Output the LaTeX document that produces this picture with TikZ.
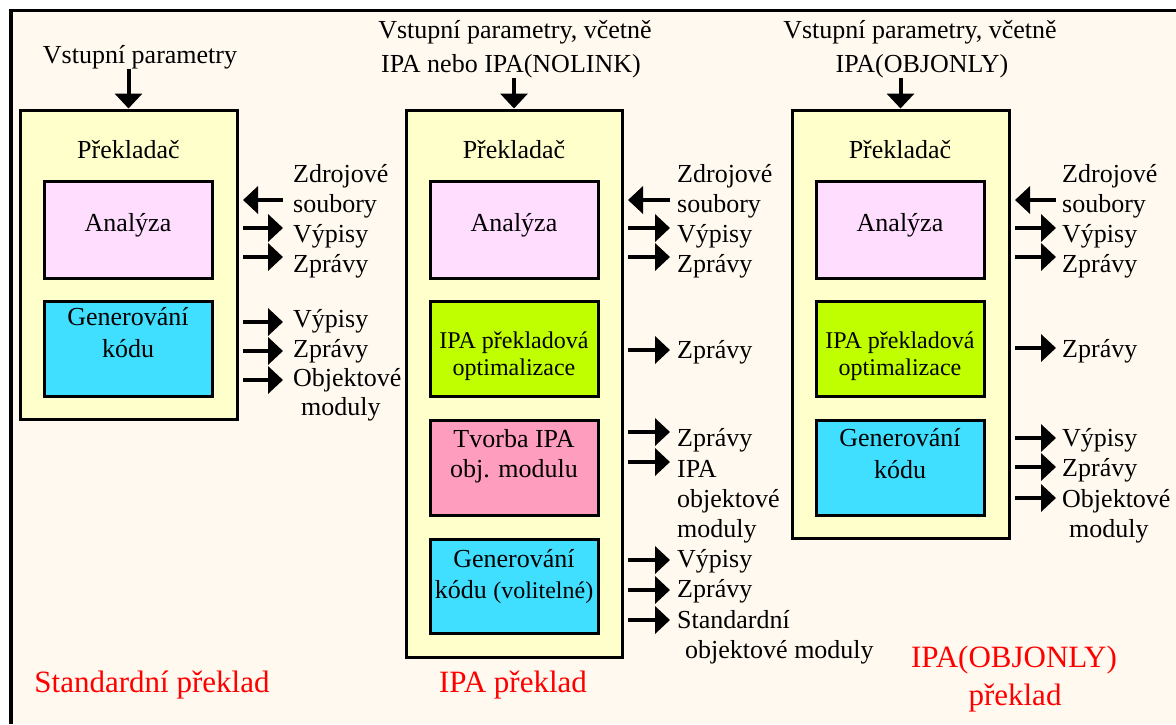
\documentclass[tikz,border=0pt]{standalone}
\usepackage{fontspec}
\setmainfont{LiberationSerif}[Extension=.ttf, UprightFont=*-Regular, BoldFont=*-Bold, ItalicFont=*-Italic, BoldItalicFont=*-BoldItalic]
\usetikzlibrary{arrows.meta}
\definecolor{paper}{HTML}{FFF9EF}
\definecolor{stagefill}{HTML}{FFFFCC}
\definecolor{analysisfill}{HTML}{FFDDFF}
\definecolor{codegenfill}{HTML}{40DFFF}
\definecolor{optfill}{HTML}{BFFF00}
\definecolor{objfill}{HTML}{FF9DBF}
\begin{document}
\begin{tikzpicture}[x=1pt,y=-1pt,
  stage/.style={draw=black, line width=3pt, fill=stagefill, minimum width=217pt, inner sep=0pt},
  phase/.style={draw=black, line width=3pt, minimum width=168pt, inner sep=0pt},
  txt/.style={anchor=base, inner sep=0pt, font=\fontsize{26}{30}\selectfont},
  smalltxt/.style={anchor=base, inner sep=0pt, font=\fontsize{24}{27}\selectfont},
  lbl/.style={txt, anchor=base west},
  caption/.style={anchor=base, inner sep=0pt, text=red, font=\fontsize{31}{36}\selectfont},
  flow/.style={line width=4pt, -{Triangle[length=15pt,width=27pt]}},
  backflow/.style={line width=4pt, {Triangle[length=15pt,width=27pt]}-}]

% page and outer frame
\useasboundingbox (0,0) rectangle (1176,724);
\fill[white] (0,0) rectangle (1176,724);
\fill[paper] (11,10.5) rectangle (1176,724);
\draw[line width=3.5pt] (11,724) -- (11,10.5) -- (1176,10.5);

% ---------------- standard compilation ----------------
\node[stage, minimum height=309pt] (L) at (128.5,264.5) {};
\node[phase, fill=analysisfill, minimum height=97pt] (LA) at (128,229.5) {};
\node[phase, fill=codegenfill, minimum height=95pt] (LG) at (128,348.5) {};
\node[txt] (Lin) at (140,63) {Vstupní parametry};
\node[txt] (Ltitle) at (128.5,158) {Překladač};
\node[txt] (LAt) at (128,231) {Analýza};
\node[txt] (LGt1) at (128,325) {Generování};
\node[txt] (LGt2) at (128,357) {kódu};
\draw[flow] (L.north |- Lin.south) -- (L.north);

\node[lbl] (L1) at (293,182) {Zdrojové};
\node[lbl] (L2) at (293,212) {soubory};
\node[lbl] (L3) at (293,242) {Výpisy};
\node[lbl] (L4) at (293,272) {Zprávy};
\node[lbl] (L5) at (293,327) {Výpisy};
\node[lbl] (L6) at (293,357) {Zprávy};
\node[lbl] (L7) at (293,386) {Objektové};
\node[lbl] (L8) at (301,415) {moduly};
\coordinate (Lout) at ([xshift=4.5pt]L.east);
\draw[backflow] (Lout |- 0,200) -- ++(40,0);
\foreach \y in {228,257,322,351,380}
  \draw[flow] (Lout |- 0,\y) -- ++(40,0);

\node[caption] (Lcap) at (152,692) {Standardní překlad};

% ---------------- IPA compilation ----------------
\node[stage, minimum width=216pt, minimum height=547pt] (C) at (514,383.5) {};
\node[phase, fill=analysisfill, minimum height=97pt] (CA) at (514,229.5) {};
\node[phase, fill=optfill, minimum height=95pt] (CO) at (514,348.5) {};
\node[phase, fill=objfill, minimum height=95pt] (CT) at (514,467.5) {};
\node[phase, fill=codegenfill, minimum height=94pt] (CG) at (514,586) {};
\node[txt] (Cin1) at (515,38) {Vstupní parametry, včetně};
\node[txt] (Cin2) at (511,72) {IPA nebo IPA(NOLINK)};
\node[txt] (Ctitle) at (514,158) {Překladač};
\node[txt] (CAt) at (514,231) {Analýza};
\node[smalltxt] (COt1) at (514,348) {IPA překladová};
\node[smalltxt] (COt2) at (514,375) {optimalizace};
\node[txt] (CTt1) at (514,447) {Tvorba IPA};
\node[txt] (CTt2) at (514,477) {obj. modulu};
\node[txt] (CGt1) at (514,567) {Generování};
\node[txt] (CGt2) at (514,598) {kódu {\fontsize{24}{27}\selectfont(volitelné)}};
\draw[flow] (C.north |- Cin2.south) -- (C.north);

\node[lbl] (C1) at (677,182) {Zdrojové};
\node[lbl] (C2) at (677,212) {soubory};
\node[lbl] (C3) at (677,242) {Výpisy};
\node[lbl] (C4) at (677,272) {Zprávy};
\node[lbl] (C5) at (677,358) {Zprávy};
\node[lbl] (C6) at (677,446) {Zprávy};
\node[lbl] (C7) at (677,477) {IPA};
\node[lbl] (C8) at (677,507) {objektové};
\node[lbl] (C9) at (677,537) {moduly};
\node[lbl] (C10) at (677,567) {Výpisy};
\node[lbl] (C11) at (677,597) {Zprávy};
\node[lbl] (C12) at (677,628) {Standardní};
\node[lbl] (C13) at (685,658) {objektové moduly};
\coordinate (Cout) at ([xshift=4.5pt]C.east);
\draw[backflow] (Cout |- 0,200) -- ++(42,0);
\foreach \y in {228,257,350,432,462,560,590,620}
  \draw[flow] (Cout |- 0,\y) -- ++(42,0);

\node[caption] (Ccap) at (513,692) {IPA překlad};

% ---------------- IPA(OBJONLY) compilation ----------------
\node[stage, minimum height=428pt] (R) at (900.5,324) {};
\node[phase, fill=analysisfill, minimum height=97pt] (RA) at (900,229.5) {};
\node[phase, fill=optfill, minimum height=95pt] (RO) at (900,348.5) {};
\node[phase, fill=codegenfill, minimum height=95pt] (RG) at (900,467.5) {};
\node[txt] (Rin1) at (920,38) {Vstupní parametry, včetně};
\node[txt] (Rin2) at (922,72) {IPA(OBJONLY)};
\node[txt] (Rtitle) at (900,158) {Překladač};
\node[txt] (RAt) at (900,231) {Analýza};
\node[smalltxt] (ROt1) at (900,348) {IPA překladová};
\node[smalltxt] (ROt2) at (900,375) {optimalizace};
\node[txt] (RGt1) at (900,446) {Generování};
\node[txt] (RGt2) at (900,478) {kódu};
\draw[flow] (R.north |- Rin2.south) -- (R.north);

\node[lbl] (R1) at (1062,182) {Zdrojové};
\node[lbl] (R2) at (1062,212) {soubory};
\node[lbl] (R3) at (1062,242) {Výpisy};
\node[lbl] (R4) at (1062,272) {Zprávy};
\node[lbl] (R5) at (1062,357) {Zprávy};
\node[lbl] (R6) at (1062,446) {Výpisy};
\node[lbl] (R7) at (1062,476) {Zprávy};
\node[lbl] (R8) at (1062,507) {Objektové};
\node[lbl] (R9) at (1069,537) {moduly};
\coordinate (Rout) at ([xshift=4.5pt]R.east);
\draw[backflow] (Rout |- 0,200) -- ++(41,0);
\foreach \y in {228,257,348,438,467,498}
  \draw[flow] (Rout |- 0,\y) -- ++(41,0);

\node[caption] (Rcap1) at (1014,667) {IPA(OBJONLY)};
\node[caption] (Rcap2) at (1015,705) {překlad};
\end{tikzpicture}
\end{document}
